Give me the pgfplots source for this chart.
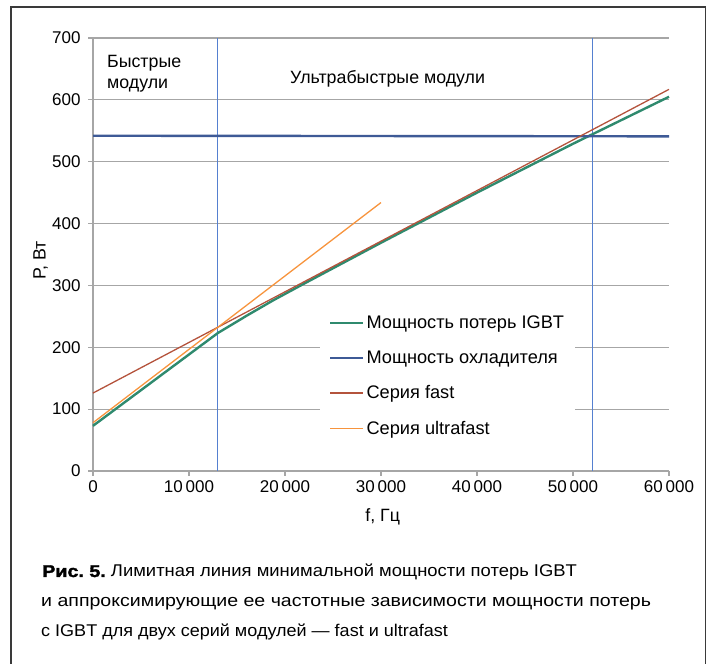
\documentclass[border=0pt]{standalone}
\usepackage{fontspec}
\setmainfont{Liberation Sans}
\newfontfamily\capfonta[FakeStretch=1.083]{Liberation Sans}
\newfontfamily\capfontb[FakeStretch=1.15]{Liberation Sans}
\newfontfamily\capfontc[FakeStretch=1.06]{Liberation Sans}
\newfontfamily\capfontbold[FakeStretch=1.16,FakeBold=1.8]{Liberation Sans Bold}
\usepackage{pgfplots}
\pgfplotsset{compat=1.18}

\definecolor{gridgray}{HTML}{A6A6A6}
\definecolor{framegray}{HTML}{3A3A3A}
\definecolor{igbtgreen}{HTML}{2F8A6E}
\definecolor{coolblue}{HTML}{3E5A96}
\definecolor{fastred}{HTML}{B4533C}
\definecolor{ultraorange}{HTML}{F7943D}
\definecolor{zoneblue}{HTML}{5580D0}

\newcommand{\chartfont}{\fontsize{17.8bp}{20bp}\selectfont}
\newcommand{\legendfont}{\fontsize{18.2bp}{20bp}\selectfont}
\newcommand{\tickfont}{\fontsize{17bp}{20bp}\selectfont}
\newcommand{\capsize}{\fontsize{17bp}{20bp}\selectfont}

\begin{document}
\begin{tikzpicture}[x=1bp,y=1bp]
\useasboundingbox (0,0) rectangle (716,664);
% outer frame (open at the bottom edge)
\draw[framegray, line width=1.4bp] (11,0) -- (11,657) -- (705.5,657) -- (705.5,0);

\begin{axis}[
  at={(93bp,193bp)}, anchor=south west,
  scale only axis, width=576bp, height=433bp,
  xmin=0, xmax=60000, ymin=0, ymax=700,
  scaled x ticks=false, scaled y ticks=false,
  axis x line*=bottom, axis y line*=left,
  axis line style={draw=gridgray, line width=1.1bp},
  xtick={0,10000,20000,30000,40000,50000,60000},
  xticklabels={0,10\,000,20\,000,30\,000,40\,000,50\,000,60\,000},
  ytick={0,100,200,300,400,500,600,700},
  yticklabels={0,100,200,300,400,500,600,700},
  tick align=outside, major tick length=5bp,
  tick style={draw=gridgray, line width=1.1bp},
  ymajorgrids, grid style={draw=gridgray, line width=1.1bp},
  ticklabel style={font=\tickfont, text=black},
  xticklabel style={yshift=-1bp},
  yticklabel style={xshift=-4bp},
  xlabel={f, Гц}, ylabel={Р, Вт},
  label style={font=\chartfont},
  xlabel style={at={(axis description cs:0.503,-0.106)}, anchor=center},
  ylabel style={at={(axis description cs:-0.091,0.487)}, anchor=center},
  legend style={at={(axis description cs:0.394,0.377)}, anchor=north west,
    draw=none, fill=white, font=\legendfont, row sep=16.8bp,
    inner xsep=9bp, inner ysep=6bp},
  legend cell align=left,
  legend image code/.code={\draw[#1] (0bp,0bp) -- (33bp,0bp);},
  clip=false,
]
% zone boundaries
\addplot[zoneblue, line width=0.9bp, forget plot] coordinates {(13000,0) (13000,700)};
\addplot[zoneblue, line width=0.9bp, forget plot] coordinates {(52000,0) (52000,700)};

\addplot[igbtgreen, line width=2.4bp] coordinates {
  (0,73) (13000,223) (16000,251) (18780,276) (22000,303) (26000,336)
  (30000,369) (40000,450) (50000,529) (60000,605)};
\addlegendentry{Мощность потерь IGBT}
\addplot[coolblue, line width=2.4bp] coordinates {(0,542) (60000,541)};
\addlegendentry{Мощность охладителя}
\addplot[fastred, line width=1.3bp] coordinates {(0,126) (60000,617)};
\addlegendentry{Серия fast}
\addplot[ultraorange, line width=1.3bp] coordinates {(0,78) (30000,434)};
\addlegendentry{Серия ultrafast}

\node[font=\chartfont, anchor=base west, inner sep=0pt] at (axis cs:1450,651.5) {Быстрые};
\node[font=\chartfont, anchor=base west, inner sep=0pt] at (axis cs:1450,619) {модули};
\node[font=\chartfont, anchor=base west, inner sep=0pt] at (axis cs:20520,627) {Ультрабыстрые модули};
\end{axis}

% figure caption
\node[anchor=base west, inner sep=0pt] at (42,87)
  {\capsize\capfontbold Рис.~5.\capfonta\ Лимитная линия минимальной мощности потерь IGBT};
\node[anchor=base west, inner sep=0pt] at (41,57)
  {\capsize\capfontb и аппроксимирующие ее частотные зависимости мощности потерь};
\node[anchor=base west, inner sep=0pt] at (41,27)
  {\capsize\capfontc с IGBT для двух серий модулей — fast и ultrafast};
\end{tikzpicture}
\end{document}
